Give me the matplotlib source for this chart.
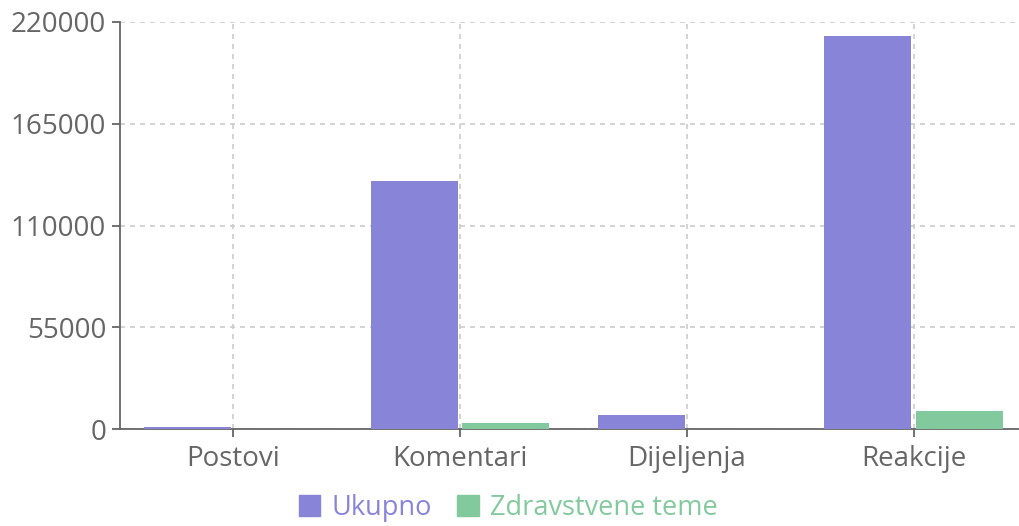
import matplotlib.pyplot as plt
from matplotlib.patches import Patch
import numpy as np

categories = ["Postovi", "Komentari", "Dijeljenja", "Reakcije"]
ukupno = [1400, 134200, 7700, 212300]
zdravstvene = [150, 3600, 150, 9900]
y_ticks = [0, 55000, 110000, 165000, 220000]

purple = "#8884d8"
green = "#82ca9d"
axis_col = "#666666"

plt.rcParams['font.family'] = ['Open Sans', 'DejaVu Sans']

W, H = 1019, 526
fig = plt.figure(figsize=(W / 100, H / 100), dpi=100)
# axes extends slightly past the right edge, like the cropped original
left, right, top, bottom = 120, 1027, 21.7, 429.3
ax = fig.add_axes([left / W, 1 - bottom / H, (right - left) / W, (bottom - top) / H])

x = np.arange(len(categories))
bw = 0.384
ax.bar(x - 0.202, ukupno, width=bw, color=purple, zorder=3)
ax.bar(x + 0.202, zdravstvene, width=bw, color=green, zorder=3)

ax.set_xlim(-0.5, 3.5)
ax.set_ylim(0, 220000)
ax.set_xticks(x)
ax.set_xticklabels(categories)
ax.set_yticks(y_ticks)
ax.set_yticklabels([str(v) for v in y_ticks])

ax.grid(True, color="#cccccc", linestyle=(0, (3, 3)), linewidth=1.2, zorder=0)
for s in ["top", "right"]:
    ax.spines[s].set_visible(False)
for s in ["left", "bottom"]:
    ax.spines[s].set_color(axis_col)
    ax.spines[s].set_linewidth(1.3)
ax.tick_params(colors=axis_col, labelsize=20, length=6, width=1.3, pad=4)
ax.tick_params(axis='x', pad=5)

handles = [Patch(color=purple, label="Ukupno"), Patch(color=green, label="Zdravstvene teme")]
leg = fig.legend(handles=handles, loc="center", bbox_to_anchor=(508 / W, 1 - 508 / H),
                 ncol=2, frameon=False, fontsize=19.5, handlelength=0.8, handleheight=0.8,
                 handletextpad=0.4, columnspacing=0.95)
for t, c in zip(leg.get_texts(), [purple, green]):
    t.set_color(c)

plt.savefig("out.png", dpi=100)
